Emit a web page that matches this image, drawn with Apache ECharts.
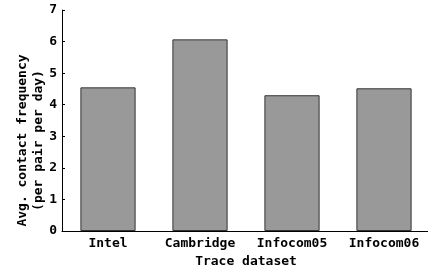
<!DOCTYPE html>
<html>
<head>
<meta charset="utf-8">
<title>ECharts</title>
<script src="https://cdn.jsdelivr.net/npm/echarts@6/dist/echarts.min.js"></script>
<style>
  html, body { margin: 0; padding: 0; background: #fff; }
</style>
</head>
<body>
<div id="main" style="width:428px;height:265px;"></div>
<script type="text/javascript">
var categories = ['Intel', 'Cambridge', 'Infocom05', 'Infocom06'];
var contactFreq = [4.55, 6.07, 4.30, 4.52];
var yTicks = [0, 1, 2, 3, 4, 5, 6, 7];

var font = 'DejaVu Sans Mono';
var myChart = echarts.init(document.getElementById('main'));

var option = {
    animation: false,
    backgroundColor: '#fff',
    grid: { left: 62, right: -2, top: 10, bottom: 34, outerBoundsMode: 'none', containLabel: false },
    xAxis: {
        type: 'category',
        data: categories,
        name: 'Trace dataset',
        nameLocation: 'middle',
        nameGap: 19,
        nameTextStyle: { fontFamily: font, fontWeight: 'bold', fontSize: 13, color: '#000' },
        axisLine: { lineStyle: { color: '#000', width: 1 } },
        axisTick: { show: false },
        axisLabel: { interval: 0, fontFamily: font, fontWeight: 'bold', fontSize: 13, color: '#000', margin: 6 }
    },
    yAxis: {
        type: 'value',
        min: yTicks[0],
        max: yTicks[yTicks.length - 1],
        interval: 1,
        name: 'Avg. contact frequency\n(per pair per day)',
        nameLocation: 'middle',
        nameGap: 15,
        nameMoveOverlap: false,
        nameTextStyle: { fontFamily: font, fontWeight: 'bold', fontSize: 13, color: '#000', lineHeight: 16, padding: [0, 40, 0, 0] },
        axisLine: { show: true, lineStyle: { color: '#000', width: 1 } },
        axisTick: { show: true, inside: true, length: 3, lineStyle: { color: '#000' } },
        splitLine: { show: false },
        axisLabel: { fontFamily: font, fontWeight: 'bold', fontSize: 13, color: '#000', margin: 5 }
    },
    series: [{
        type: 'bar',
        data: contactFreq,
        barWidth: '60%',
        itemStyle: { color: '#999999', borderColor: '#333', borderWidth: 1 }
    }]
};

myChart.setOption(option);
</script>
</body>
</html>
